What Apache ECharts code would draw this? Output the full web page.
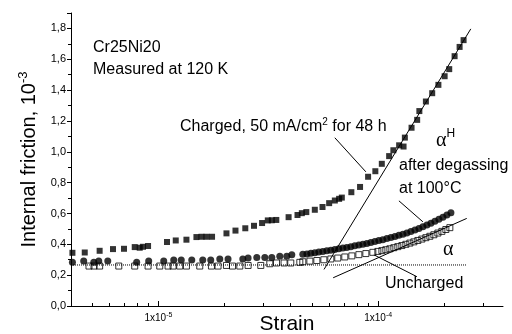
<!DOCTYPE html>
<html>
<head>
<meta charset="utf-8">
<script src="https://cdn.jsdelivr.net/npm/echarts@6/dist/echarts.min.js"></script>
<style>
  html, body { margin: 0; padding: 0; background: #fff; }
  #chart { width: 512px; height: 334px; }
</style>
</head>
<body>
<div id="chart"></div>
<script>
// Charged, 50 mA/cm2 for 48 h (filled squares)
const chargedStrain = [4.06e-6, 4.62e-6, 5.40e-6, 6.21e-6, 6.97e-6, 7.80e-6, 8.22e-6, 8.51e-6, 8.97e-6,
  1.094e-5, 1.199e-5, 1.341e-5, 1.489e-5, 1.570e-5, 1.654e-5, 1.754e-5, 2.04e-5, 2.242e-5, 2.485e-5,
  2.722e-5, 2.963e-5, 3.146e-5, 3.281e-5, 3.439e-5, 3.912e-5, 4.295e-5, 4.494e-5, 4.710e-5, 5.149e-5,
  5.582e-5, 5.984e-5, 6.351e-5, 6.643e-5, 6.834e-5, 7.551e-5, 8.272e-5, 9.00e-5, 9.71e-5, 1.039e-4,
  1.122e-4, 1.173e-4, 1.246e-4, 1.305e-4, 1.323e-4, 1.419e-4, 1.505e-4, 1.540e-4, 1.649e-4, 1.762e-4,
  1.880e-4, 2.007e-4, 2.106e-4, 2.228e-4, 2.348e-4, 2.448e-4]
const chargedIF = [0.345, 0.347, 0.358, 0.369, 0.371, 0.382, 0.378, 0.384, 0.389,
  0.415, 0.425, 0.430, 0.447, 0.449, 0.449, 0.449, 0.471, 0.489, 0.504,
  0.520, 0.538, 0.555, 0.556, 0.558, 0.576, 0.590, 0.602, 0.609, 0.624,
  0.642, 0.667, 0.684, 0.695, 0.703, 0.738, 0.772, 0.838, 0.874, 0.922,
  0.972, 1.010, 1.042, 1.034, 1.092, 1.156, 1.207, 1.264, 1.326, 1.380,
  1.434, 1.490, 1.536, 1.620, 1.680, 1.724]

// after degassing at 100°C (filled circles)
const degassedStrain = [4.06e-6, 4.57e-6, 5.08e-6, 5.35e-6, 5.88e-6, 7.96e-6, 9.03e-6, 1.057e-5, 1.174e-5,
  1.270e-5, 1.418e-5, 1.591e-5, 1.730e-5, 1.902e-5, 2.074e-5, 2.421e-5, 2.559e-5, 2.803e-5, 3.049e-5,
  3.281e-5, 3.567e-5, 3.838e-5, 4.046e-5,
  4.54e-5, 4.74e-5, 4.94e-5, 5.15e-5, 5.37e-5, 5.60e-5, 5.84e-5, 6.09e-5, 6.35e-5, 6.62e-5,
  6.91e-5, 7.20e-5, 7.51e-5, 7.83e-5, 8.17e-5, 8.52e-5, 8.88e-5, 9.26e-5, 9.66e-5, 1.007e-4,
  1.050e-4, 1.096e-4, 1.143e-4, 1.192e-4, 1.243e-4, 1.296e-4, 1.351e-4, 1.409e-4, 1.470e-4, 1.533e-4,
  1.598e-4, 1.667e-4, 1.738e-4, 1.812e-4, 1.890e-4, 1.971e-4, 2.055e-4, 2.144e-4]
const degassedIF = [0.283, 0.292, 0.283, 0.292, 0.292, 0.283, 0.292, 0.292, 0.298,
  0.298, 0.298, 0.298, 0.298, 0.305, 0.305, 0.305, 0.311, 0.315, 0.315,
  0.315, 0.322, 0.322, 0.332,
  0.335, 0.338, 0.342, 0.346, 0.350, 0.354, 0.358, 0.362, 0.366, 0.371,
  0.376, 0.380, 0.385, 0.390, 0.395, 0.400, 0.406, 0.412, 0.418, 0.424,
  0.430, 0.437, 0.444, 0.451, 0.458, 0.466, 0.474, 0.483, 0.493, 0.503,
  0.514, 0.525, 0.537, 0.549, 0.562, 0.576, 0.590, 0.605]

// Uncharged (open squares)
const unchargedStrain = [4.83e-6, 5.09e-6, 5.40e-6, 6.60e-6, 7.80e-6, 8.97e-6, 1.014e-5, 1.106e-5, 1.166e-5,
  1.250e-5, 1.341e-5, 1.542e-5, 1.743e-5, 1.868e-5, 2.040e-5, 2.173e-5, 2.346e-5, 2.559e-5, 2.923e-5,
  3.212e-5, 3.446e-5, 3.731e-5, 4.003e-5, 4.400e-5,
  4.54e-5, 4.89e-5, 5.26e-5, 5.66e-5, 6.09e-5, 6.55e-5, 7.05e-5, 7.59e-5, 8.17e-5, 8.79e-5,
  9.46e-5, 9.97e-5, 1.040e-4, 1.084e-4, 1.131e-4, 1.179e-4, 1.229e-4, 1.282e-4, 1.337e-4, 1.394e-4,
  1.454e-4, 1.516e-4, 1.581e-4, 1.649e-4, 1.719e-4, 1.793e-4, 1.870e-4, 1.950e-4, 2.033e-4, 2.120e-4]
const unchargedIF = [0.259, 0.259, 0.259, 0.259, 0.259, 0.259, 0.259, 0.259, 0.259,
  0.259, 0.259, 0.259, 0.259, 0.259, 0.263, 0.259, 0.259, 0.263, 0.263,
  0.274, 0.279, 0.279, 0.279, 0.283,
  0.287, 0.291, 0.295, 0.300, 0.305, 0.311, 0.318, 0.325, 0.333, 0.340,
  0.348, 0.354, 0.359, 0.365, 0.371, 0.378, 0.385, 0.392, 0.400, 0.408,
  0.416, 0.425, 0.434, 0.443, 0.452, 0.462, 0.473, 0.484, 0.496, 0.508]

// straight fits and the background level
const alphaHStrain = [5.67e-5, 2.64e-4]
const alphaHIF = [0.237, 1.797]
const alphaStrain = [6.24e-5, 2.53e-4]
const alphaIF = [0.183, 0.568]
const baseStrain = [4e-6, 2.53e-4]
const baseIF = [0.266, 0.266]

// leader lines from the notes to the curves
const leadCharged = [[6.35e-5, 1.091], [8.79e-5, 0.870]]
const leadDegassed = [[1.243e-4, 0.682], [1.598e-4, 0.546]]
const leadUncharged = [[1.501e-4, 0.190], [9.56e-5, 0.332]]

// axes
const xLabelValues = [1e-5, 1e-4]
const xMinorValues = [5e-6, 6e-6, 7e-6, 8e-6, 9e-6, 2e-5, 3e-5, 4e-5, 5e-5, 6e-5, 7e-5, 8e-5, 9e-5, 2e-4, 3e-4]

const FONT = 'Arial, "Liberation Sans", sans-serif'

function pairs(xs, ys) {
  return xs.map((x, i) => [x, ys[i]])
}

function lineSeries(data, dotted) {
  return {
    type: 'line',
    data: data,
    symbol: 'none',
    silent: true,
    z: 5,
    lineStyle: { color: '#000', width: 1, type: dotted ? 'dotted' : 'solid' }
  }
}

const chart = echarts.init(document.getElementById('chart'))
const axisBase = {
  type: 'log',
  logBase: 10,
  min: 4e-6,
  max: 3.7e-4,
  position: 'bottom',
  splitLine: { show: false }
}

chart.setOption({
  animation: false,
  backgroundColor: '#fff',
  grid: { left: 71, right: 9, top: 13, bottom: 28, containLabel: false, outerBoundsMode: 'none' },
  xAxis: [
    {
      ...axisBase,
      name: 'Strain',
      nameLocation: 'middle',
      nameGap: 8,
      nameMoveOverlap: false,
      nameTextStyle: { color: '#000', fontSize: 21, fontFamily: FONT, verticalAlign: 'top' },
      axisLine: { show: true, lineStyle: { color: '#000', width: 1 } },
      axisTick: { show: true, inside: true, length: 3, customValues: xMinorValues.concat(xLabelValues), lineStyle: { color: '#000' } },
      axisLabel: {
        customValues: xLabelValues,
        margin: 6,
        formatter: function (v) {
          return '{b|1x10}{s|' + Math.round(Math.log10(v)) + '}'
        },
        rich: {
          b: { fontSize: 10, fontFamily: FONT, color: '#000', lineHeight: 13 },
          s: { fontSize: 7, fontFamily: FONT, color: '#000', lineHeight: 13, verticalAlign: 'top' }
        }
      }
    },
    {
      ...axisBase,
      axisLine: { show: false },
      axisLabel: { show: false },
      axisTick: { show: true, inside: true, length: 5, customValues: xLabelValues, lineStyle: { color: '#000' } }
    }
  ],
  yAxis: {
    type: 'value',
    min: 0,
    max: 1.9,
    interval: 0.2,
    name: '{t|Internal friction, 10}{s|-3}',
    nameLocation: 'middle',
    nameGap: 30,
    nameRotate: 90,
    nameTextStyle: {
      rich: {
        t: { fontSize: 20, fontFamily: FONT, color: '#000', lineHeight: 24 },
        s: { fontSize: 13, fontFamily: FONT, color: '#000', lineHeight: 24, verticalAlign: 'top' }
      }
    },
    splitLine: { show: false },
    axisLine: { show: true, lineStyle: { color: '#000', width: 1 } },
    axisTick: { show: true, inside: false, length: 4, lineStyle: { color: '#000' } },
    minorTick: { show: true, splitNumber: 2, length: 3, lineStyle: { color: '#000' } },
    axisLabel: {
      showMaxLabel: false,
      margin: 5,
      color: '#000',
      fontSize: 11,
      fontFamily: FONT,
      formatter: v => v.toFixed(1).replace('.', ',')
    }
  },
  series: [
    lineSeries(pairs(baseStrain, baseIF), true),
    lineSeries(pairs(alphaHStrain, alphaHIF)),
    lineSeries(pairs(alphaStrain, alphaIF)),
    lineSeries(leadCharged),
    lineSeries(leadDegassed),
    lineSeries(leadUncharged),
    {
      name: 'Charged',
      type: 'scatter',
      data: pairs(chargedStrain, chargedIF),
      symbol: 'rect',
      symbolSize: 6,
      itemStyle: { color: '#000' }
    },
    {
      name: 'Degassed',
      type: 'scatter',
      data: pairs(degassedStrain, degassedIF),
      symbol: 'circle',
      symbolSize: 7,
      itemStyle: { color: '#000' }
    },
    {
      name: 'Uncharged',
      type: 'scatter',
      data: pairs(unchargedStrain, unchargedIF),
      symbol: 'rect',
      symbolSize: 6,
      itemStyle: { color: 'rgba(0,0,0,0)', borderColor: '#000', borderWidth: 1 }
    }
  ],
  graphic: [
    { type: 'text', left: 93, top: 40, style: { text: 'Cr25Ni20', fontSize: 16, fontFamily: FONT, fill: '#000' } },
    { type: 'text', left: 93, top: 62, style: { text: 'Measured at 120 K', fontSize: 16, fontFamily: FONT, fill: '#000' } },
    {
      type: 'text', left: 180, top: 117,
      style: {
        text: '{t|Charged, 50 mA/cm}{s|2}{t| for 48 h}',
        rich: {
          t: { fontSize: 16, fontFamily: FONT, fill: '#000', lineHeight: 20 },
          s: { fontSize: 10, fontFamily: FONT, fill: '#000', lineHeight: 20, verticalAlign: 'top' }
        }
      }
    },
    {
      type: 'text', left: 436, top: 128,
      style: {
        text: '{a|α}{h|H}',
        rich: {
          a: { fontSize: 20, fontFamily: '"Liberation Serif", serif', fill: '#000', lineHeight: 26 },
          h: { fontSize: 12, fontFamily: FONT, fill: '#000', lineHeight: 26, verticalAlign: 'top' }
        }
      }
    },
    { type: 'text', left: 399, top: 158, style: { text: 'after degassing', fontSize: 16, fontFamily: FONT, fill: '#000' } },
    { type: 'text', left: 399, top: 181, style: { text: 'at 100°C', fontSize: 16, fontFamily: FONT, fill: '#000' } },
    { type: 'text', left: 443, top: 240, style: { text: 'α', fontSize: 20, fontFamily: '"Liberation Serif", serif', fill: '#000' } },
    { type: 'text', left: 385, top: 276, style: { text: 'Uncharged', fontSize: 16, fontFamily: FONT, fill: '#000' } }
  ]
})
</script>
</body>
</html>
